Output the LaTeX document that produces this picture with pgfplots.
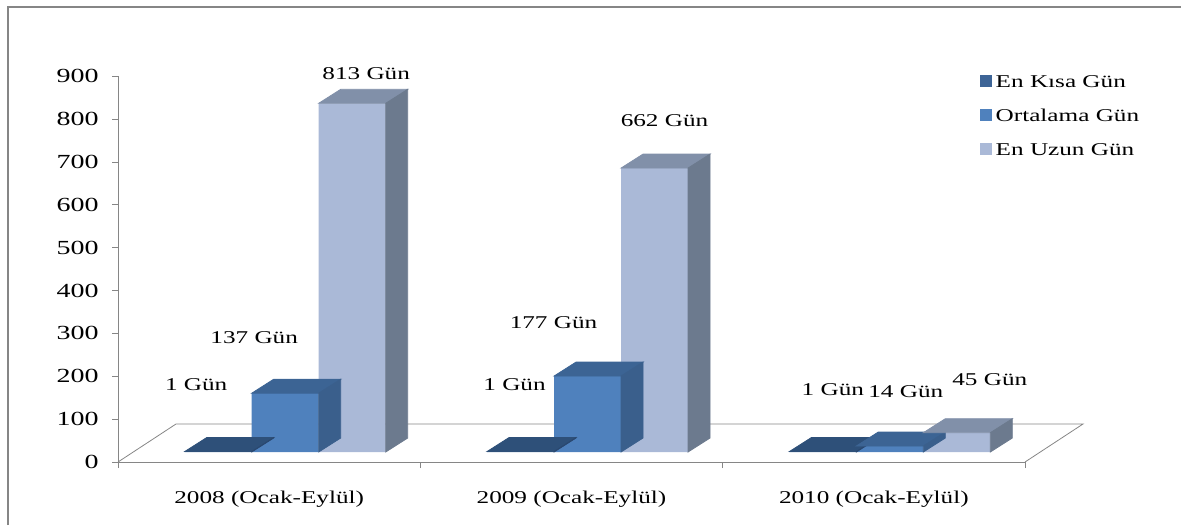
\documentclass[border=0pt]{standalone}
\usepackage{fontspec}
\setmainfont{Liberation Serif}[FakeStretch=1.4]
\usepackage{pgfplots}
\pgfplotsset{compat=1.18}
\usepackage{pgfplotstable}

\definecolor{kisaon}{HTML}{3D6496}
\definecolor{kisaust}{HTML}{2E5079}
\definecolor{kisayan}{HTML}{2A4870}
\definecolor{ortaon}{HTML}{4F81BD}
\definecolor{ortaust}{HTML}{3C6494}
\definecolor{ortayan}{HTML}{3A5F8C}
\definecolor{uzunon}{HTML}{AAB9D7}
\definecolor{uzunust}{HTML}{8190A9}
\definecolor{uzunyan}{HTML}{6C7A8E}
\definecolor{eksen}{HTML}{868686}

% x: kategori, y: gun, lx/ly: etiket kaymasi (pt)
\pgfplotstableread{
x y lx ly
0 1 -44.5 33.5
1 1 -36.5 33.5
2 1 -28.5 31
}\kisa
\pgfplotstableread{
x y lx ly
0 137 -15.5 28
1 177 -17 26.5
2 14 8 27
}\orta
\pgfplotstableread{
x y lx ly
0 813 40.5 15
1 662 38.5 23.5
2 45 50 26.5
}\uzun

\pgfdeclareplotmark{bos}{}

\pgfplotsset{
  on/.style={ybar, bar width=0.2216, bar shift=#1, draw=none,
    xshift=8pt, yshift=5pt,
    legend image code/.code={\fill[##1] (0pt,-7pt) rectangle (6pt,-1pt);},
    visualization depends on={\thisrow{lx} \as \lx},
    visualization depends on={\thisrow{ly} \as \ly},
    nodes near coords={\pgfmathprintnumber{\pgfplotspointmeta}~Gün},
    every node near coord/.append style={anchor=center, xshift=\lx pt, yshift=\ly pt}},
  yuz/.style n args={3}{only marks, mark=bos, scatter, forget plot,
    xshift=8pt, yshift=5pt,
    visualization depends on={\thisrow{y} \as \deger},
    scatter/@pre marker code/.code={%
      \pgfmathsetmacro\h{\deger*0.214444}%
      \fill[#2] (#1-16.75pt,0pt) -- (#1+16.75pt,0pt) -- ++(11pt,7pt) -- ++(-33.5pt,0pt) -- cycle;
      \fill[#3] (#1+16.75pt,0pt) -- ++(11pt,7pt) -- ++(0pt,-\h pt) -- ++(-11pt,-7pt) -- cycle;
    },
    scatter/@post marker code/.code={}},
}

\begin{document}
\fontsize{9}{11}\selectfont
\begin{tikzpicture}
\useasboundingbox (0,0) rectangle (590.5pt,262.5pt);
\draw[eksen, line width=1pt] (4pt,0pt) -- (4pt,258.75pt) -- (590.5pt,258.75pt);
\begin{axis}[
    at={(59pt,31.5pt)}, anchor=south west,
    scale only axis, width=453.5pt, height=193pt,
    clip=false,
    xmin=-0.5, xmax=2.5, ymin=0, ymax=900,
    axis lines*=left,
    axis line style={eksen},
    tick style={eksen},
    tick align=outside,
    major tick length=3pt, minor tick length=3pt,
    xtick={0,1,2},
    xticklabels={2008 (Ocak-Eylül),2009 (Ocak-Eylül),2010 (Ocak-Eylül)},
    minor xtick={-0.5,0.5,1.5,2.5},
    major x tick style={draw=none},
    xticklabel style={anchor=center, yshift=-15.5pt},
    ytick={0,100,...,900},
    yticklabel style={anchor=east, xshift=-3.5pt, font=\fontsize{10}{12}\selectfont},
    /pgf/number format/assume math mode=true,
    legend cell align=left,
    legend style={draw=none, fill=none, at={(0.943,1.022)}, anchor=north west,
        row sep=5.4pt},
]
\draw[eksen] (rel axis cs:0,0) -- ++(29pt,19pt)
    -- ([xshift=29pt,yshift=19pt]rel axis cs:1,0) -- (rel axis cs:1,0);

\addplot[on=-0.2216, fill=kisaon] table[x=x,y=y] {\kisa};
\addlegendentry{En Kısa Gün}
\addplot[yuz={-33.5pt}{kisaust}{kisayan}] table[x=x,y=y] {\kisa};

\addplot[on=0, fill=ortaon] table[x=x,y=y] {\orta};
\addlegendentry{Ortalama Gün}
\addplot[yuz={0pt}{ortaust}{ortayan}] table[x=x,y=y] {\orta};

\addplot[on=0.2216, fill=uzunon] table[x=x,y=y] {\uzun};
\addlegendentry{En Uzun Gün}
\addplot[yuz={33.5pt}{uzunust}{uzunyan}] table[x=x,y=y] {\uzun};
\end{axis}
\end{tikzpicture}
\end{document}
